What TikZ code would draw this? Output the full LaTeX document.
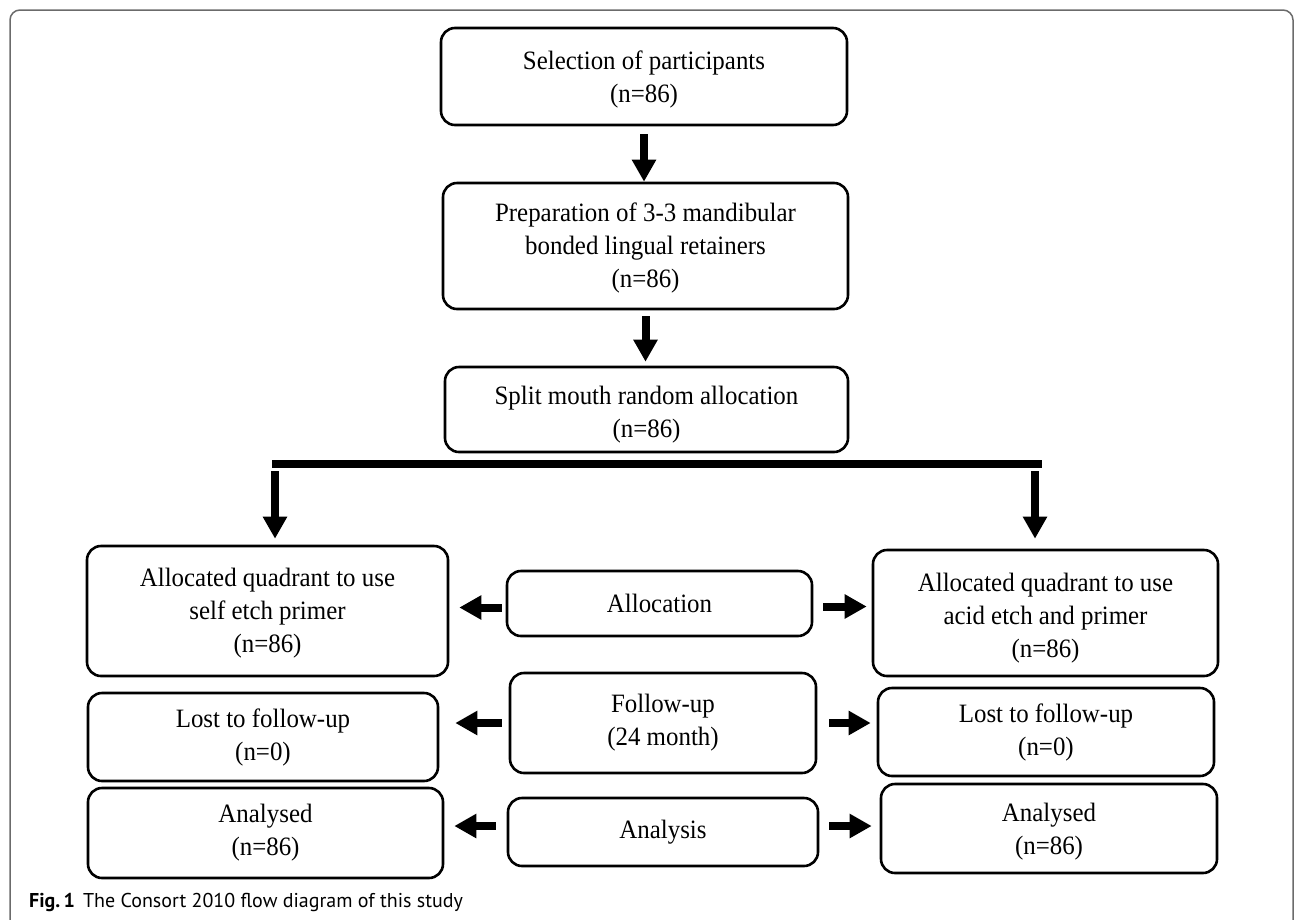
\documentclass[tikz,border=0pt]{standalone}
\usepackage{fontspec}
\setmainfont{Liberation Serif}[FakeStretch=0.94]
\newfontfamily\capfont{PT Sans}
\usetikzlibrary{arrows.meta}
\newcommand\dstrut[1]{\rule{0pt}{#1}}
\begin{document}
\begin{tikzpicture}[x=1pt,y=-1pt,
  box/.style={draw, line width=2.6pt, rounded corners=14pt, align=center, inner sep=0pt,
              font=\fontsize{26.5}{33}\selectfont},
  blk/.style={line width=8pt, -{Triangle[width=23pt 0 1, length=22pt 0 1]}},
  barline/.style={line width=8pt},
  frame/.style={draw=black!58, line width=1.5pt, rounded corners=10pt},
]
\useasboundingbox (0,0) rectangle (1295,919);
\clip (0,0) rectangle (1295,919);
\draw[frame] (10,10) rectangle (1293,935);

% main column
\node[box, minimum width=406pt, minimum height=97pt] (b1) at (644,76.5) {\dstrut{24pt}Selection of participants\\(n=86)};
\node[box, minimum width=405pt, minimum height=126pt] (b2) at (645.5,246) {\dstrut{22pt}Preparation of 3-3 mandibular\\bonded lingual retainers\\(n=86)};
\node[box, minimum width=403pt, minimum height=85pt] (b3) at (646.5,409.5) {\dstrut{28pt}Split mouth random allocation\\(n=86)};

% left column
\node[box, minimum width=361pt, minimum height=130pt] (L1) at (267.5,611) {\dstrut{22pt}Allocated quadrant to use\\self etch primer\\(n=86)};
\node[box, minimum width=350pt, minimum height=88pt] (L2) at (263,737) {Lost to follow-up\\(n=0)};
\node[box, minimum width=355pt, minimum height=90pt] (L3) at (265.5,833) {Analysed\\(n=86)};

% middle column
\node[box, minimum width=305pt, minimum height=65pt] (M1) at (659.5,603.5) {Allocation};
\node[box, minimum width=306pt, minimum height=100pt] (M2) at (663,723) {Follow-up\\(24 month)};
\node[box, minimum width=310pt, minimum height=68pt] (M3) at (663,832) {Analysis};

% right column
\node[box, minimum width=345pt, minimum height=126pt] (R1) at (1045.5,613) {\dstrut{28pt}Allocated quadrant to use\\acid etch and primer\\(n=86)};
\node[box, minimum width=336pt, minimum height=88pt] (R2) at (1046,732) {Lost to follow-up\\(n=0)};
\node[box, minimum width=336pt, minimum height=89pt] (R3) at (1049,828.5) {\dstrut{24pt}Analysed\\(n=86)};

% vertical arrows
\draw[blk, shorten <=8pt] (b1.south) -- (b1.south |- b2.north);
\draw[blk, shorten <=6pt, shorten >=4pt] (b2.south) -- (b2.south |- b3.north);

% split bar
\coordinate (barL) at (272,464);
\coordinate (barR) at (1042,464);
\draw[barline] (barL) -- (barR);
\coordinate (aL) at (275,471);
\coordinate (aR) at (1035,471);
\draw[blk, shorten >=6pt] (aL) -- (aL |- L1.north);
\draw[blk, shorten >=10pt] (aR) -- (aR |- R1.north);

% horizontal arrows
\draw[blk, shorten <=4pt, shorten >=10pt] ([yshift=-4pt]M1.west) -- ([yshift=-4pt]M1.west -| L1.east);
\draw[blk, shorten <=10pt, shorten >=5pt] ([yshift=-3pt]M1.east) -- ([yshift=-3pt]M1.east -| R1.west);
\draw[blk, shorten <=7pt, shorten >=16pt] (M2.west) -- (M2.west -| L2.east);
\draw[blk, shorten <=12pt, shorten >=6pt] (M2.east) -- (M2.east -| R2.west);
\draw[blk, shorten <=11pt, shorten >=10pt] ([yshift=6pt]M3.west) -- ([yshift=6pt]M3.west -| L3.east);
\draw[blk, shorten <=10pt, shorten >=8pt] ([yshift=6pt]M3.east) -- ([yshift=6pt]M3.east -| R3.west);

% caption
\node[anchor=base west, inner sep=0pt, font=\capfont\fontsize{20}{24}\selectfont] (cap) at (29,907)
  {\textbf{Fig.\,1}\hspace{8pt}The Consort 2010 flow diagram of this study};
\end{tikzpicture}
\end{document}
